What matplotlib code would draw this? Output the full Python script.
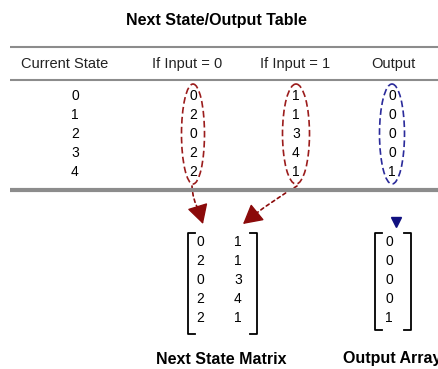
import matplotlib.pyplot as plt
from matplotlib.patches import Ellipse, FancyArrowPatch

# table data
states = [0, 1, 2, 3, 4]
next_if_0 = [0, 2, 0, 2, 2]
next_if_1 = [1, 1, 3, 4, 1]
outputs = [0, 0, 0, 0, 1]
headers = ['Current State', 'If Input = 0', 'If Input = 1', 'Output']

plt.rcParams['font.family'] = ['Liberation Sans', 'DejaVu Sans']

RED = '#9b1c1c'
DARKRED = '#8b0a0a'
BLUE = '#2a2a9a'
GREY = '#8c8c8c'

fig = plt.figure(figsize=(4.39, 3.69), dpi=100)
ax = fig.add_axes([0, 0, 1, 1])
ax.set_xlim(0, 439)
ax.set_ylim(369, 0)
ax.axis('off')

# title
ax.text(216, 20, 'Next State/Output Table', ha='center', va='center',
        fontsize=11.5, fontweight='bold')

# table rules
ax.plot([10, 439], [47, 47], color=GREY, lw=1.5, solid_capstyle='butt')
ax.plot([10, 439], [80, 80], color=GREY, lw=1.5, solid_capstyle='butt')
ax.plot([10, 439], [190, 190], color=GREY, lw=3, solid_capstyle='butt')

header_x = [65, 187, 295, 393]
for hx, h in zip(header_x, headers):
    ax.text(hx, 64, h, ha='center', va='center', fontsize=10.5, color='#222222')

col_x = [75, 193, 296, 392]
row_y0, row_dy = 96, 19
for i in range(len(states)):
    y = row_y0 + i * row_dy
    for cx, col in zip(col_x, [states, next_if_0, next_if_1, outputs]):
        ax.text(cx, y, str(col[i]), ha='center', va='center', fontsize=10)

# dashed ellipses round the columns
for cx, w, c in [(193, 23, RED), (296, 27, RED), (392, 25, BLUE)]:
    ax.add_patch(Ellipse((cx, 134), w, 100, fill=False, ec=c, lw=1.2,
                         ls=(0, (4, 2))))


# arrows from the columns into the matrix: dashed shaft, solid head
def arrow(start, base, tip, rad):
    ax.add_patch(FancyArrowPatch(start, base, arrowstyle='-', color=DARKRED,
                                 lw=1.2, ls=(0, (2, 2)),
                                 connectionstyle=f'arc3,rad={rad}',
                                 shrinkA=0, shrinkB=0))
    ax.add_patch(FancyArrowPatch(base, tip,
                                 arrowstyle='-|>,head_length=1.0,head_width=0.55',
                                 color=DARKRED, lw=1, mutation_scale=12,
                                 shrinkA=0, shrinkB=0))


arrow((192, 186), (199, 211), (203, 224), 0.12)
arrow((297, 186), (254, 215), (243, 224), 0.03)
ax.plot([396], [222], marker='v', color='#101080', markersize=7)


def bracket(x0, x1, y0, y1):
    s = 7
    ax.plot([x0 + s, x0, x0, x0 + s], [y0, y0, y1, y1], color='black', lw=1.3)
    ax.plot([x1 - s, x1, x1, x1 - s], [y0, y0, y1, y1], color='black', lw=1.3)


# next state matrix
bracket(188, 257, 233, 334)
for i in range(len(states)):
    y = 242 + i * 19
    ax.text(200, y, str(next_if_0[i]), ha='center', va='center', fontsize=10)
    ax.text(238, y, str(next_if_1[i]), ha='center', va='center', fontsize=10)

# output array
bracket(375, 411, 233, 330)
for i in range(len(states)):
    ax.text(389, 242 + i * 19, str(outputs[i]), ha='center', va='center', fontsize=10)

ax.text(221, 359, 'Next State Matrix', ha='center', va='center',
        fontsize=11.5, fontweight='bold')
ax.text(343, 359, 'Output Array', ha='left', va='center',
        fontsize=11.5, fontweight='bold', clip_on=False)

plt.savefig('out.png', dpi=100)
plt.close()
